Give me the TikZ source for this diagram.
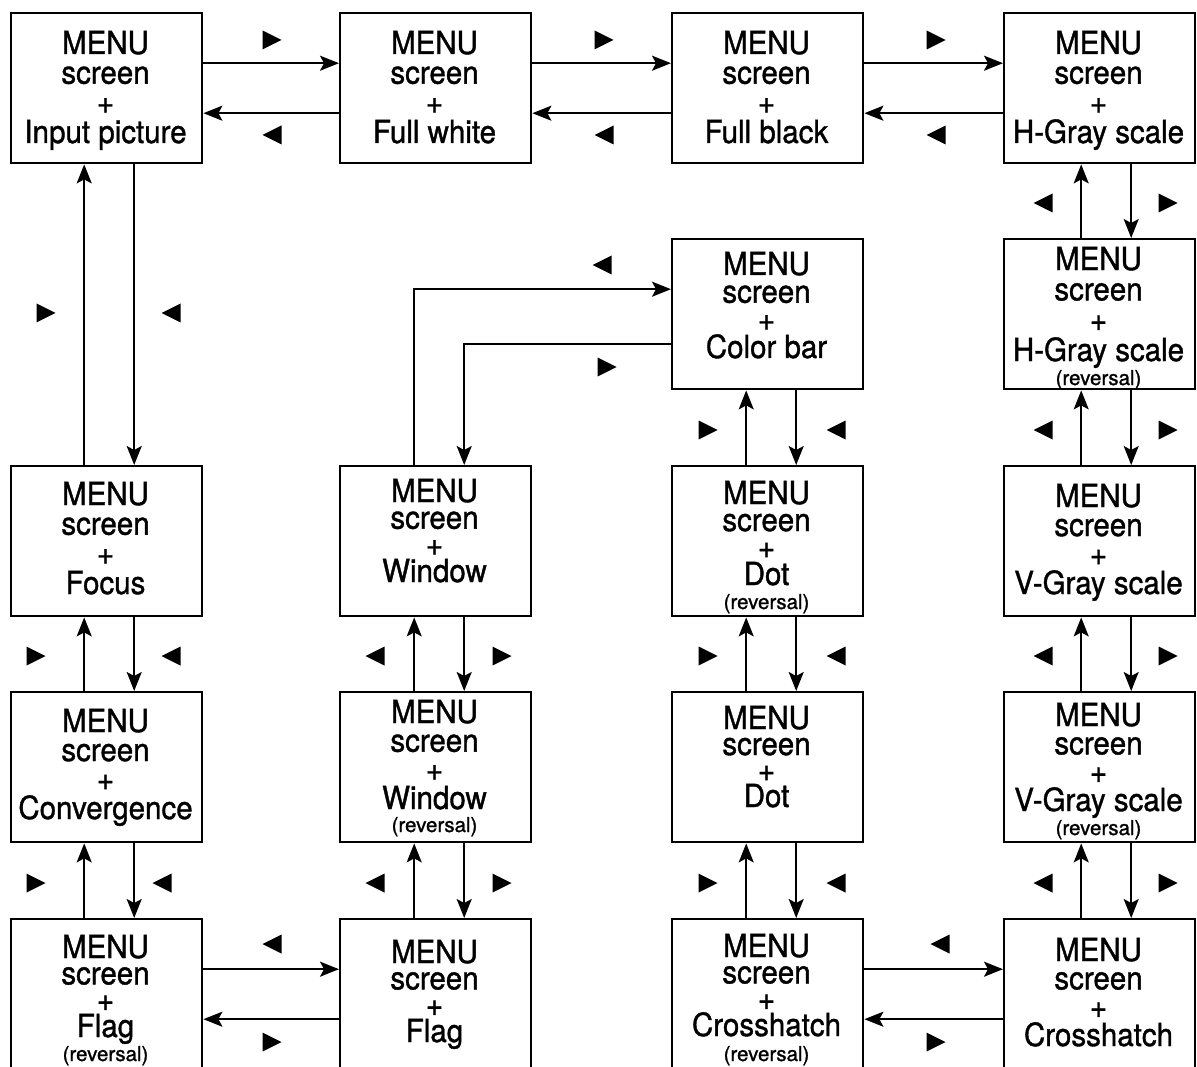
\documentclass[tikz,border=0pt]{standalone}
\usepackage{fontspec}
\usepackage{graphicx}
\setmainfont{TeX Gyre Heros}[FakeBold=1.2]
\usetikzlibrary{arrows.meta,calc}
\newcommand\tx[1]{\scalebox{1}[1.08]{#1}}
% #1 name, #2 centre x, #3 first baseline, #4 last baseline, #5 last line
\newcommand\boxtext[5]{%
  \pgfmathsetmacro\lsk{(#4-#3)/3}%
  \node[txt,font=\fontsize{29.5}{\lsk}\selectfont] (#1) at (#2,#4)
    {\tx{MENU}\\\tx{screen}\\\tx{+}\\\tx{#5}};
}
\newcommand\revtext[3]{\node[revtxt] (#1r) at (#2,#3) {(reversal)};}
\newcommand\rtri[2]{\fill (#1-9.5,#2-9.5) -- (#1+9.5,#2) -- (#1-9.5,#2+9.5) -- cycle;}
\newcommand\ltri[2]{\fill (#1+9.5,#2-9.5) -- (#1-9.5,#2) -- (#1+9.5,#2+9.5) -- cycle;}
\begin{document}
\begin{tikzpicture}[x=1pt,y=-1pt,
  scr/.style={draw,line width=2.4pt,minimum width=191pt,minimum height=150pt,inner sep=0pt,anchor=north west},
  txt/.style={anchor=base,inner sep=0pt,align=center},
  revtxt/.style={anchor=base,inner sep=0pt,font=\fontsize{20.5}{21}\selectfont},
  arr/.style={line width=1.6pt,-{Stealth[length=19pt,width=15pt,inset=4pt]}}]
\useasboundingbox (0,0) rectangle (1197,1067);
\fill[white] (0,0) rectangle (1197,1067);
\clip (0,0) rectangle (1197,1067);
% boxes
\node[scr] (b11) at (10,12) {};
\node[scr] (b12) at (339,12) {};
\node[scr] (b13) at (671,12) {};
\node[scr] (b14) at (1003,12) {};
\node[scr] (b23) at (671,238) {};
\node[scr] (b24) at (1003,238) {};
\node[scr] (b31) at (10,465) {};
\node[scr] (b32) at (339,465) {};
\node[scr] (b33) at (671,465) {};
\node[scr] (b34) at (1003,465) {};
\node[scr] (b41) at (10,691) {};
\node[scr] (b42) at (339,691) {};
\node[scr] (b43) at (671,691) {};
\node[scr] (b44) at (1003,691) {};
\node[scr] (b51) at (10,918) {};
\node[scr] (b52) at (339,918) {};
\node[scr] (b53) at (671,918) {};
\node[scr] (b54) at (1003,918) {};
% texts
\boxtext{t11}{105.5}{54}{143}{Input picture}
\boxtext{t12}{434.5}{54}{143}{Full white}
\boxtext{t13}{766.5}{54}{143}{Full black}
\boxtext{t14}{1098.5}{54}{143}{H-Gray scale}
\boxtext{t23}{766.5}{275}{358}{Color bar}
\boxtext{t24}{1098.5}{270}{361}{H-Gray scale}
\revtext{t24}{1098.5}{385}
\boxtext{t31}{105.5}{505}{594}{Focus}
\boxtext{t32}{434.5}{502}{582}{Window}
\boxtext{t33}{766.5}{504}{585}{Dot}
\revtext{t33}{766.5}{609}
\boxtext{t34}{1098.5}{507}{594}{V-Gray scale}
\boxtext{t41}{105.5}{732}{819}{Convergence}
\boxtext{t42}{434.5}{723}{809}{Window}
\revtext{t42}{434.5}{832}
\boxtext{t43}{766.5}{729}{807}{Dot}
\boxtext{t44}{1098.5}{726}{811}{V-Gray scale}
\revtext{t44}{1098.5}{835}
\boxtext{t51}{105.5}{958}{1037}{Flag}
\revtext{t51}{105.5}{1061}
\boxtext{t52}{434.5}{963}{1042}{Flag}
\boxtext{t53}{766.5}{957}{1036}{Crosshatch}
\revtext{t53}{766.5}{1061}
\boxtext{t54}{1098.5}{961}{1046}{Crosshatch}
% row 1 horizontal connectors
\draw[arr] ([yshift=25pt]b11.east) -- ([yshift=25pt]b12.west);
\draw[arr] ([yshift=-25pt]b12.west) -- ([yshift=-25pt]b11.east);
\draw[arr] ([yshift=25pt]b12.east) -- ([yshift=25pt]b13.west);
\draw[arr] ([yshift=-25pt]b13.west) -- ([yshift=-25pt]b12.east);
\draw[arr] ([yshift=25pt]b13.east) -- ([yshift=25pt]b14.west);
\draw[arr] ([yshift=-25pt]b14.west) -- ([yshift=-25pt]b13.east);
% row 5 horizontal connectors
\draw[arr] ([yshift=25pt]b51.east) -- ([yshift=25pt]b52.west);
\draw[arr] ([yshift=-25pt]b52.west) -- ([yshift=-25pt]b51.east);
\draw[arr] ([yshift=25pt]b53.east) -- ([yshift=25pt]b54.west);
\draw[arr] ([yshift=-25pt]b54.west) -- ([yshift=-25pt]b53.east);
% column 1
\draw[arr] ([xshift=-22.5pt]b31.north) -- ([xshift=-22.5pt]b11.south);
\draw[arr] ([xshift=27.5pt]b11.south) -- ([xshift=27.5pt]b31.north);
\draw[arr] ([xshift=-22.5pt]b41.north) -- ([xshift=-22.5pt]b31.south);
\draw[arr] ([xshift=27.5pt]b31.south) -- ([xshift=27.5pt]b41.north);
\draw[arr] ([xshift=-22.5pt]b51.north) -- ([xshift=-22.5pt]b41.south);
\draw[arr] ([xshift=27.5pt]b41.south) -- ([xshift=27.5pt]b51.north);
% column 2
\draw[arr] ([xshift=-21.5pt]b32.north) |- ([yshift=25pt]b23.west);
\draw[arr] ([yshift=-30pt]b23.west) -| ([xshift=28.5pt]b32.north);
\draw[arr] ([xshift=-21.5pt]b42.north) -- ([xshift=-21.5pt]b32.south);
\draw[arr] ([xshift=28.5pt]b32.south) -- ([xshift=28.5pt]b42.north);
\draw[arr] ([xshift=-21.5pt]b52.north) -- ([xshift=-21.5pt]b42.south);
\draw[arr] ([xshift=28.5pt]b42.south) -- ([xshift=28.5pt]b52.north);
% column 3
\draw[arr] ([xshift=-21.5pt]b33.north) -- ([xshift=-21.5pt]b23.south);
\draw[arr] ([xshift=28.5pt]b23.south) -- ([xshift=28.5pt]b33.north);
\draw[arr] ([xshift=-21.5pt]b43.north) -- ([xshift=-21.5pt]b33.south);
\draw[arr] ([xshift=28.5pt]b33.south) -- ([xshift=28.5pt]b43.north);
\draw[arr] ([xshift=-21.5pt]b53.north) -- ([xshift=-21.5pt]b43.south);
\draw[arr] ([xshift=28.5pt]b43.south) -- ([xshift=28.5pt]b53.north);
% column 4
\draw[arr] ([xshift=-18.5pt]b24.north) -- ([xshift=-18.5pt]b14.south);
\draw[arr] ([xshift=31.5pt]b14.south) -- ([xshift=31.5pt]b24.north);
\draw[arr] ([xshift=-18.5pt]b34.north) -- ([xshift=-18.5pt]b24.south);
\draw[arr] ([xshift=31.5pt]b24.south) -- ([xshift=31.5pt]b34.north);
\draw[arr] ([xshift=-18.5pt]b44.north) -- ([xshift=-18.5pt]b34.south);
\draw[arr] ([xshift=31.5pt]b34.south) -- ([xshift=31.5pt]b44.north);
\draw[arr] ([xshift=-18.5pt]b54.north) -- ([xshift=-18.5pt]b44.south);
\draw[arr] ([xshift=31.5pt]b44.south) -- ([xshift=31.5pt]b54.north);
% direction marks
\rtri{272}{40} \rtri{604}{40} \rtri{936}{40}
\ltri{272}{135} \ltri{604}{135} \ltri{936}{135}
\rtri{46}{313} \ltri{171}{313}
\ltri{1043}{203} \rtri{1168}{203}
\ltri{602}{265} \rtri{607}{367}
\rtri{708}{430} \ltri{836}{430} \ltri{1043}{430} \rtri{1168}{430}
\rtri{36}{656} \ltri{171}{656} \ltri{375}{656} \rtri{502}{656}
\rtri{708}{656} \ltri{836}{656} \ltri{1043}{656} \rtri{1168}{656}
\rtri{36}{883} \ltri{162}{883} \ltri{375}{883} \rtri{502}{883}
\rtri{708}{883} \ltri{836}{883} \ltri{1043}{883} \rtri{1168}{883}
\ltri{272}{944} \rtri{272}{1042} \ltri{940}{944} \rtri{936}{1042}
\end{tikzpicture}
\end{document}
